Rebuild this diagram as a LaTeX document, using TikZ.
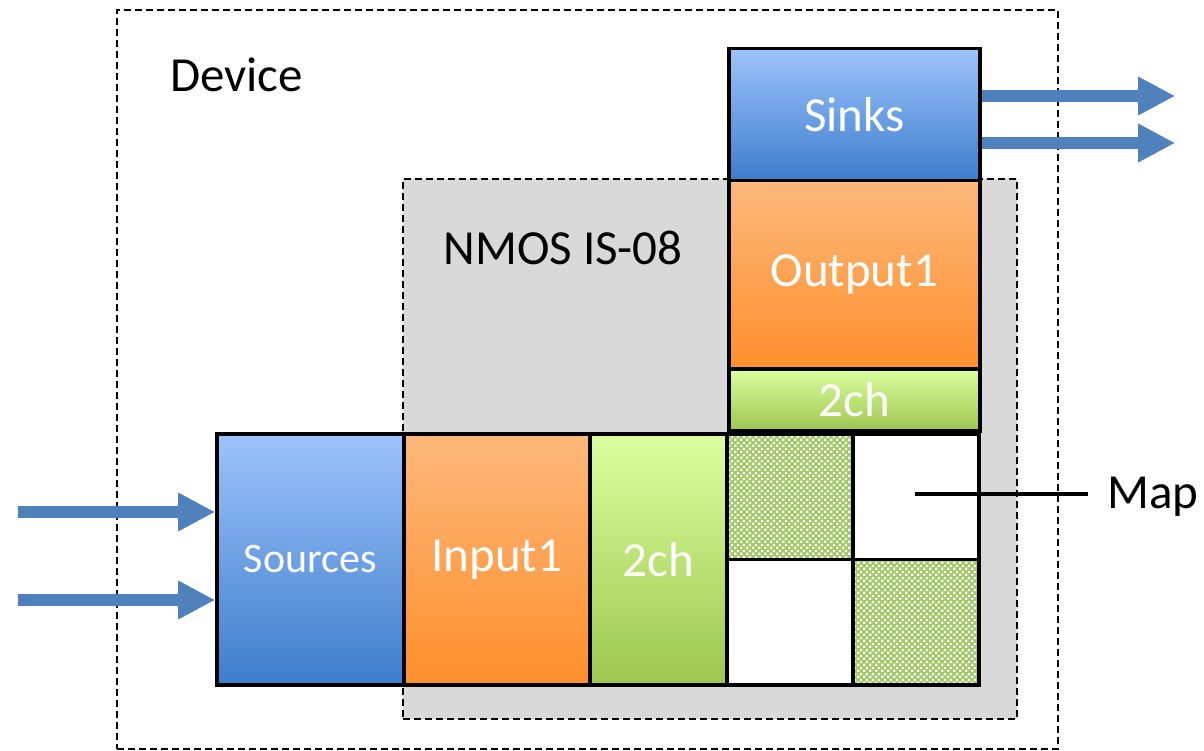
\documentclass[tikz,border=0pt]{standalone}
\usepackage{fontspec}
\setmainfont{Carlito}
\usetikzlibrary{arrows.meta,patterns}
\pgfdeclarepatternformonly{whitecheck}{\pgfpointorigin}{\pgfpoint{5.6pt}{5.6pt}}{\pgfpoint{5.6pt}{5.6pt}}{%
  \pgfpathrectangle{\pgfpoint{0.2pt}{0.2pt}}{\pgfpoint{2.4pt}{2.4pt}}%
  \pgfpathrectangle{\pgfpoint{3pt}{3pt}}{\pgfpoint{2.4pt}{2.4pt}}%
  \pgfusepath{fill}}
\definecolor{arrowblue}{HTML}{4F81BD}
\definecolor{bluetop}{HTML}{9DC3FC}
\definecolor{bluebot}{HTML}{3D7DCB}
\definecolor{orangetop}{HTML}{FDB87C}
\definecolor{orangebot}{HTML}{FE8F2C}
\definecolor{greentop}{HTML}{DCFFA0}
\definecolor{greenbot}{HTML}{9DC64E}
\definecolor{checkgreen}{HTML}{A2C968}
\definecolor{nmosgrey}{HTML}{D9D9D9}
\tikzset{
  dashbox/.style={draw=black, line width=1.8pt, dash pattern=on 7pt off 4pt},
  blk/.style={draw=black, line width=3.5pt, inner sep=0pt, anchor=north west,
    text=white, font=\fontsize{49}{59}\selectfont},
  bluebox/.style={blk, top color=bluetop, bottom color=bluebot},
  orangebox/.style={blk, top color=orangetop, bottom color=orangebot},
  greenbox/.style={blk, top color=greentop, bottom color=greenbot},
  cell/.style={blk, fill=white, minimum width=126pt, minimum height=125.5pt},
  checkcell/.style={cell, preaction={fill=checkgreen}, pattern=whitecheck, pattern color=white},
  flow/.style={draw=arrowblue, line width=12pt, -{Triangle[width=36pt,length=37pt]}},
  flowshadow/.style={draw=black, opacity=0.12, line width=12pt, -{Triangle[width=36pt,length=37pt]}},
  lbl/.style={font=\fontsize{49}{59}\selectfont, inner sep=0pt},
}
\begin{document}
\begin{tikzpicture}[x=1pt, y=-1pt]
  \useasboundingbox (0,0) rectangle (1204,751);
  % Device box
  \node[dashbox, minimum width=941pt, minimum height=739pt, anchor=north west, inner sep=0pt] (device) at (116,9) {};
  \node[lbl, anchor=west] (devlbl) at (170,75) {Device};
  % NMOS box
  \node[dashbox, fill=nmosgrey, minimum width=614pt, minimum height=540pt, anchor=north west, inner sep=0pt] (nmos) at (402,178) {};
  \node[lbl] (nmoslbl) at (563,248) {NMOS IS-08};
  % Upper column
  \node[bluebox, minimum width=251pt, minimum height=132pt] (sinks) at (727,47) {Sinks};
  \node[orangebox, minimum width=251pt, minimum height=188pt] (output) at (727,179) {Output1};
  \node[greenbox, minimum width=251pt, minimum height=62pt] (och) at (727,367) {2ch};
  % Lower row
  \node[bluebox, minimum width=187pt, minimum height=251pt, font=\fontsize{42}{50}\selectfont] (sources) at (215,432) {Sources};
  \node[orangebox, minimum width=186pt, minimum height=251pt] (input) at (402,432) {Input1};
  \node[greenbox, minimum width=137pt, minimum height=251pt] (ich) at (588,432) {2ch};
  % Map grid
  \node[checkcell] (m11) at (725,432) {};
  \node[cell] (m12) at (851,432) {};
  \node[cell] (m21) at (725,557.5) {};
  \node[checkcell] (m22) at (851,557.5) {};
  % Map label
  \coordinate (mapin) at (915,494);
  \node[lbl, anchor=west] (maplbl) at (1107,497) {Map};
  \draw[line width=4pt] (mapin) -- (1088,494);
  % Arrows
  \coordinate (inA) at (18,512);
  \coordinate (inB) at (18,600);
  \coordinate (outA) at (1175,96);
  \coordinate (outB) at (1175,143);
  \foreach \d in {2,4,6}{
  \begin{scope}[shift={(\d,\d)}]
    \draw[flowshadow] (inA) -- (inA -| sources.west);
    \draw[flowshadow] (inB) -- (inB -| sources.west);
    \draw[flowshadow] (outA -| sinks.east) -- (outA);
    \draw[flowshadow] (outB -| sinks.east) -- (outB);
  \end{scope}}
  \draw[flow] (inA) -- (inA -| sources.west);
  \draw[flow] (inB) -- (inB -| sources.west);
  \draw[flow] (outA -| sinks.east) -- (outA);
  \draw[flow] (outB -| sinks.east) -- (outB);
\end{tikzpicture}
\end{document}
